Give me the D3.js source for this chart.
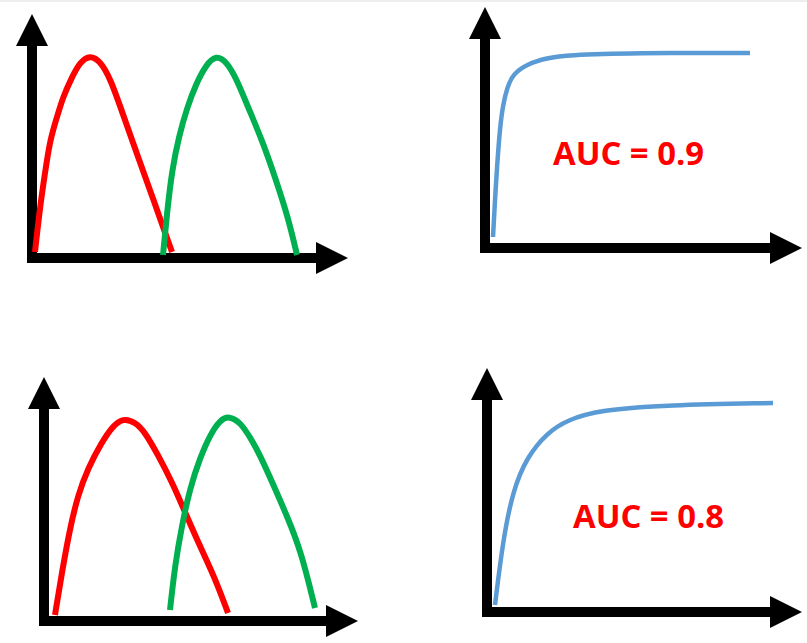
<!DOCTYPE html>
<html>
<head>
<meta charset="utf-8">
<script src="https://cdn.jsdelivr.net/npm/d3@7"></script>
<style>
  body { margin: 0; background: #fff; }
  svg { display: block; }
</style>
</head>
<body>
<script>
// curve points: [distance along x axis, height above x axis]
var redTop = [[3,6],[8,51],[13,85],[18,118],[25,141],[31,161],[40,181],[48,196],[58,203],[68,197],[78,181],[94,135],[106,101],[118,68],[131,31],[140,6]];
var greenTop = [[131,3],[135,45],[140,88],[147,122],[155,150],[164,174],[174,193],[184,203],[195,196],[205,178],[216,151],[230,118],[243,81],[256,41],[265,3]];
var rocTop = [[8,11],[10,48],[12,81],[15,121],[18,143],[22,160],[28,174],[42,184],[62,190],[82,193],[148,195],[265,195]];

var redBottom = [[11,6],[18,49],[26,93],[34,126],[44,153],[58,179],[68,194],[79,203],[91,199],[101,189],[114,166],[128,139],[141,109],[154,79],[171,43],[184,8]];
var greenBottom = [[126,11],[131,56],[138,96],[146,133],[156,163],[166,186],[176,201],[185,205],[196,199],[206,184],[216,166],[229,137],[243,105],[257,70],[271,13]];
var rocBottom = [[8,7],[16,72],[26,122],[40,155],[60,179],[80,192],[113,202],[180,207],[286,209]];

var aucLabels = ["AUC = 0.9", "AUC = 0.8"];

var svgWidth = 807;
var svgHeight = 643;

var svg = d3.select("body")
  .append("svg")
  .attr("width", svgWidth)
  .attr("height", svgHeight);

// thin grey strip along the top edge
svg.append("rect")
  .attr("width", svgWidth)
  .attr("height", 2)
  .attr("fill", "#eeeeee");

var panels = [
  { ox: 32, oy: 258, xLen: 316, yLen: 244, series: [[redTop, "#ff0000", 6], [greenTop, "#00b050", 6]] },
  { ox: 485, oy: 248, xLen: 317, yLen: 241, series: [[rocTop, "#5b9bd5", 4.5]], label: aucLabels[0], lx: 68, ly: 83 },
  { ox: 44, oy: 621, xLen: 314, yLen: 244, series: [[redBottom, "#ff0000", 6], [greenBottom, "#00b050", 6]] },
  { ox: 487, oy: 612, xLen: 315, yLen: 244, series: [[rocBottom, "#5b9bd5", 4.5]], label: aucLabels[1], lx: 86, ly: 84 }
];

var head = 32;   // arrowhead length
var half = 16;   // arrowhead half width

panels.forEach(function(p) {
  var x = d3.scaleLinear().domain([0, p.xLen]).range([p.ox, p.ox + p.xLen]);
  var y = d3.scaleLinear().domain([0, p.yLen]).range([p.oy, p.oy - p.yLen]);
  var g = svg.append("g");

  // axes
  g.append("path")
    .attr("d", "M" + x(0) + "," + y(p.yLen - head + 1) + "V" + y(0) + "H" + x(p.xLen - head + 1))
    .attr("fill", "none")
    .attr("stroke", "#000")
    .attr("stroke-width", 10)
    .attr("stroke-linejoin", "miter");

  g.append("path")
    .attr("d", "M" + x(0) + "," + y(p.yLen) +
      "L" + (x(0) + half) + "," + y(p.yLen - head) +
      "L" + (x(0) - half) + "," + y(p.yLen - head) + "Z")
    .attr("fill", "#000");

  g.append("path")
    .attr("d", "M" + x(p.xLen) + "," + y(0) +
      "L" + x(p.xLen - head) + "," + (y(0) - half) +
      "L" + x(p.xLen - head) + "," + (y(0) + half) + "Z")
    .attr("fill", "#000");

  // B-spline smooths out small reading errors in the points
  var line = d3.line()
    .x(function(d) { return x(d[0]); })
    .y(function(d) { return y(d[1]); })
    .curve(d3.curveBasis);

  p.series.forEach(function(s) {
    g.append("path")
      .datum(s[0])
      .attr("d", line)
      .attr("fill", "none")
      .attr("stroke", s[1])
      .attr("stroke-width", s[2])
      .attr("stroke-linecap", "butt");
  });

  if (p.label) {
    g.append("text")
      .attr("x", x(p.lx))
      .attr("y", y(p.ly))
      .attr("fill", "#ff0000")
      .attr("font-family", "'Open Sans', sans-serif")
      .attr("font-weight", "bold")
      .attr("font-size", 32)
      .attr("textLength", 151)
      .attr("lengthAdjust", "spacingAndGlyphs")
      .text(p.label);
  }
});
</script>
</body>
</html>
